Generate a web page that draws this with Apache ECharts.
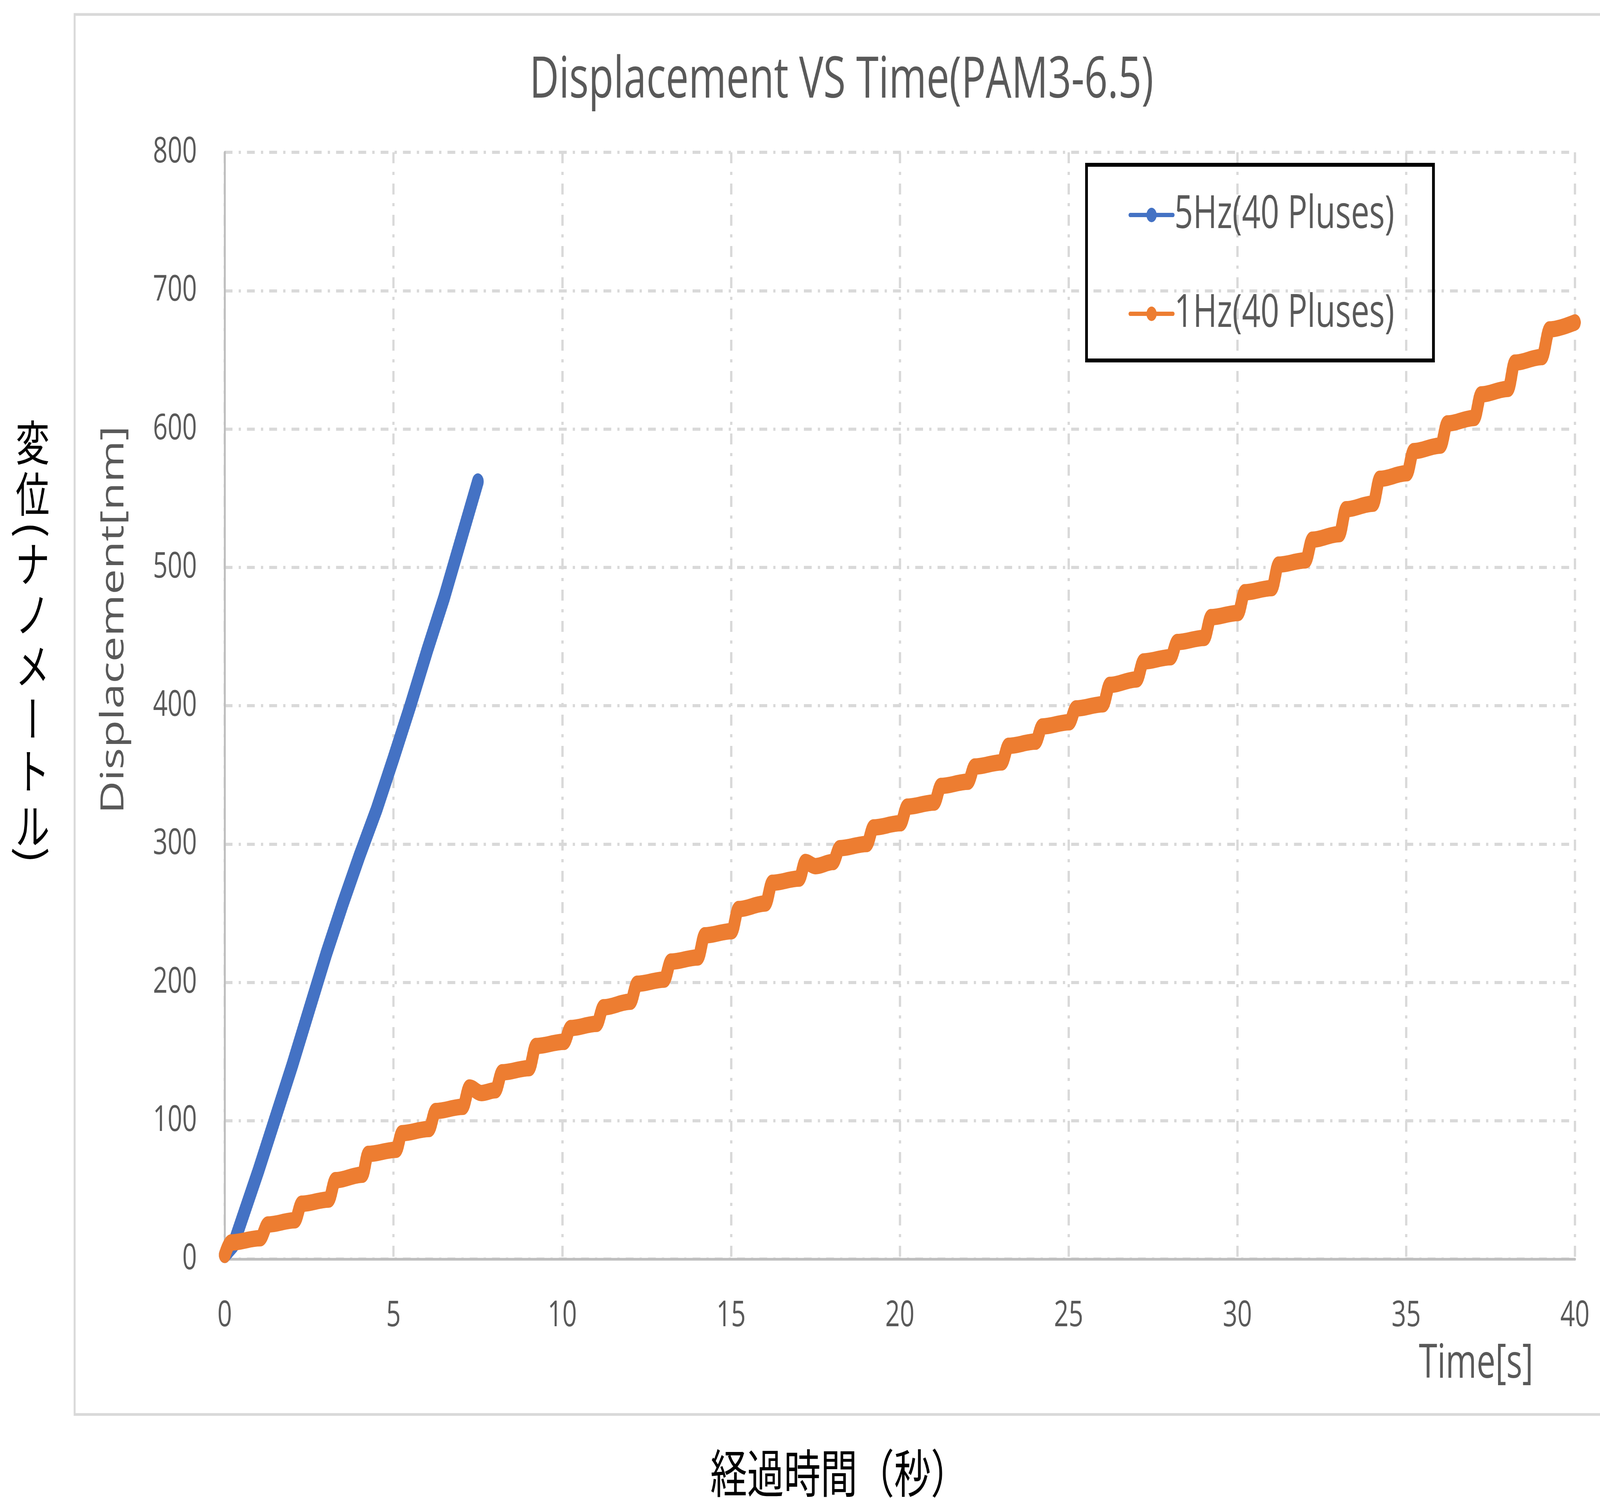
<!DOCTYPE html>
<html>
<head>
<meta charset="utf-8">
<script src="https://cdn.jsdelivr.net/npm/echarts@6/dist/echarts.min.js"></script>
<style>
html,body{margin:0;padding:0;background:#ffffff;overflow:hidden;}
#wrap{position:relative;overflow:hidden;background:#ffffff;}
#chart{position:absolute;left:0;top:0;width:5746px;height:3841px;transform-origin:0 0;}
</style>
</head>
<body>
<div id="wrap"><div id="chart"></div></div>
<script>
// ---- data ----
const titleText = 'Displacement VS Time(PAM3-6.5)';
const seriesNames = ['5Hz(40 Pluses)', '1Hz(40 Pluses)'];
const xTickValues = [0, 5, 10, 15, 20, 25, 30, 35, 40];
const yTickValues = [0, 100, 200, 300, 400, 500, 600, 700, 800];

// 5 Hz series (time [s], displacement [nm])
const blueTime = [0, 0.25, 0.5, 1.0, 1.5, 2.0, 2.5, 3.0, 3.5, 4.0, 4.5, 5.0, 5.5, 6.0, 6.5, 7.0, 7.5];
const blueDisp = [3, 10, 28, 64, 102, 140, 180, 220, 257, 292, 325, 362, 400, 440, 478, 520, 562];

// 1 Hz series: start / end of every plateau of the staircase
const orangeTime = [0.00, 0.18, 1.05, 1.28, 2.08, 2.28, 3.08, 3.28, 4.08, 4.25, 5.08, 5.25, 6.05, 6.25, 7.05, 7.25, 7.60, 8.02,
  8.22, 9.02, 9.22, 10.05, 10.25, 11.02, 11.22, 12.02, 12.22, 13.02, 13.22, 14.02, 14.22, 15.02, 15.22, 16.02,
  16.22, 17.02, 17.20, 17.50, 18.02, 18.22, 19.02, 19.22, 20.02, 20.22, 21.02, 21.22, 22.02, 22.22, 23.02, 23.22,
  24.02, 24.22, 25.02, 25.22, 26.02, 26.22, 27.02, 27.22, 28.02, 28.22, 29.02, 29.22, 30.02, 30.22, 31.02, 31.22,
  32.02, 32.22, 33.02, 33.22, 34.02, 34.22, 35.02, 35.22, 36.02, 36.22, 37.02, 37.22, 38.02, 38.22, 39.02, 39.25, 40.00];
const orangeDisp = [3, 12, 15, 25, 28, 40, 43, 57, 61, 76, 79, 91, 94, 107, 110, 124, 120, 122,
  135, 138, 154, 157, 167, 170, 182, 186, 199, 202, 215, 218, 234, 237, 253, 257,
  272, 275, 287, 284, 287, 297, 300, 312, 315, 327, 330, 342, 345, 356, 359, 371,
  374, 385, 388, 398, 401, 415, 419, 432, 435, 446, 449, 464, 467, 482, 485, 502,
  505, 520, 524, 542, 546, 564, 568, 584, 588, 604, 608, 625, 629, 648, 652, 672, 677];

const xAxisTitle = 'Time[s]';
const yAxisTitle = 'Displacement[nm]';
const jpYTitle = ['変', '位', '(', 'ナ', 'ノ', 'メ', 'ー', 'ト', 'ル', ')'];
const jpXTitle = '経過時間（秒）';

// ---- page sizing: design space is 5746 x 3841, stretched to fill the viewport ----
const W = 5746, H = 3841;
const vw = window.innerWidth || W;
const vh = window.innerHeight || H;
const sx = vw / W, sy = vh / H;
const wrap = document.getElementById('wrap');
wrap.style.width = vw + 'px';
wrap.style.height = vh + 'px';
const el = document.getElementById('chart');
el.style.transform = 'scale(' + sx + ',' + sy + ')';

// ---- build ----
const blueData = blueTime.map((t, i) => [t, blueDisp[i]]);
const orangeData = orangeTime.map((t, i) => [t, orangeDisp[i]]);

const LATIN = "'Open Sans', 'Liberation Sans', sans-serif";
const CJK = "'Noto Sans CJK JP', sans-serif";
const TXT = '#595959';

const grid = { left: 807, top: 390, right: W - 5656, bottom: H - 3224 };

const jpYCenters = [1133, 1265, 1356, 1444, 1574, 1705, 1840, 1974, 2115, 2190];
const rotateChars = { '(': true, ')': true, 'ー': true };
const jpYGraphics = jpYTitle.map((ch, i) => ({
  type: 'text',
  x: 117,
  y: jpYCenters[i],
  rotation: rotateChars[ch] ? -Math.PI / 2 : 0,
  silent: true,
  style: {
    text: ch,
    fill: '#000000',
    font: (ch === '(' || ch === ')' ? 'normal 130px ' : 'normal 122px ') + CJK,
    align: 'center',
    verticalAlign: 'middle'
  }
}));

const gridLineStyle = { color: '#d9d9d9', width: 8, type: [28, 22, 8, 22] };

const option = {
  animation: false,
  backgroundColor: '#ffffff',
  grid: grid,
  xAxis: {
    type: 'value',
    min: 0,
    max: 40,
    interval: 5,
    axisLine: { show: true, lineStyle: { color: '#bfbfbf', width: 7 } },
    axisTick: { show: false },
    axisLabel: {
      show: true,
      color: TXT,
      fontFamily: LATIN,
      fontSize: 92,
      margin: 146,
      verticalAlign: 'middle',
      customValues: xTickValues
    },
    splitLine: { show: true, lineStyle: gridLineStyle }
  },
  yAxis: {
    type: 'value',
    min: 0,
    max: 800,
    interval: 100,
    axisLine: { show: true, lineStyle: { color: '#bfbfbf', width: 7 } },
    axisTick: { show: false },
    axisLabel: {
      show: true,
      color: TXT,
      fontFamily: LATIN,
      fontSize: 92,
      margin: 100,
      customValues: yTickValues
    },
    splitLine: { show: true, lineStyle: gridLineStyle }
  },
  legend: {
    show: true,
    orient: 'vertical',
    left: 4053,
    top: 492,
    padding: 0,
    itemWidth: 154,
    itemHeight: 46,
    itemGap: 136,
    selectedMode: false,
    data: seriesNames,
    lineStyle: { width: 11 },
    textStyle: { color: TXT, fontFamily: LATIN, fontSize: 117, padding: [0, 0, 0, 0] }
  },
  series: [
    {
      name: seriesNames[0],
      type: 'line',
      data: blueData,
      color: '#4472c4',
      symbol: 'circle',
      showSymbol: false,
      smooth: false,
      lineStyle: { width: 42, color: '#4472c4', cap: 'round', join: 'round' },
      itemStyle: { color: '#4472c4', borderWidth: 0 },
      z: 2
    },
    {
      name: seriesNames[1],
      type: 'line',
      data: orangeData,
      color: '#ed7d31',
      symbol: 'circle',
      showSymbol: false,
      smooth: 0.35,
      smoothMonotone: 'x',
      lineStyle: { width: 42, color: '#ed7d31', cap: 'round', join: 'round' },
      itemStyle: { color: '#ed7d31', borderWidth: 0 },
      z: 3
    }
  ],
  graphic: [
    {
      type: 'rect', silent: true, z: -1,
      shape: { x: 268, y: 37, width: 5700, height: 3585 },
      style: { fill: 'none', stroke: '#d9d9d9', lineWidth: 7 }
    },
    {
      type: 'rect', silent: true, z: 10,
      shape: { x: 3902, y: 422, width: 1246, height: 501 },
      style: { fill: 'none', stroke: '#000000', lineWidth: 10 }
    },
    {
      type: 'text', silent: true, x: 3022, y: 208,
      style: { text: titleText, fill: TXT, font: 'normal 146px ' + LATIN, align: 'center', verticalAlign: 'middle' }
    },
    {
      type: 'text', silent: true, x: 410, y: 1587, rotation: Math.PI / 2,
      style: { text: yAxisTitle, fill: TXT, font: 'normal 116px ' + LATIN, align: 'center', verticalAlign: 'middle' }
    },
    {
      type: 'text', silent: true, x: 5506, y: 3494,
      style: { text: xAxisTitle, fill: TXT, font: 'normal 120px ' + LATIN, align: 'right', verticalAlign: 'middle' }
    },
    {
      type: 'text', silent: true, x: 3013, y: 3772,
      style: { text: jpXTitle, fill: '#000000', font: 'normal 132px ' + CJK, align: 'center', verticalAlign: 'middle' }
    }
  ].concat(jpYGraphics)
};

const chart = echarts.init(el, null, { renderer: 'canvas', width: W, height: H });
chart.setOption(option);
</script>
</body>
</html>
